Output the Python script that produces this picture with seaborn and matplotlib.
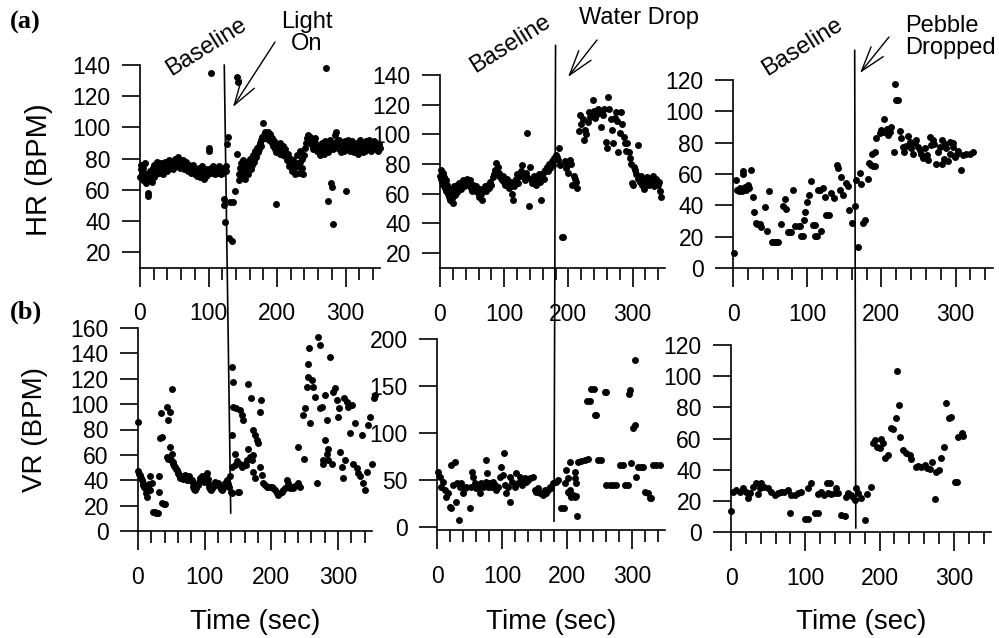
import matplotlib
matplotlib.use("Agg")
import matplotlib.pyplot as plt
import seaborn as sns
import pandas as pd
from matplotlib.patches import ConnectionPatch, FancyArrowPatch
from matplotlib.ticker import MultipleLocator

# ---------------- data: (time in sec, rate in BPM) ----------------
hr_light = [(0,68),(1,73),(2,76),(3,70),(4,66),(5,74),(6,71),(7,77),(8,67),(9,64),(10,70),(11,58),(12,56),
    (13,68),(14,72),(15,66),(16,69),(17,65),(18,71),(19,74),(20,68),(21,76),(22,72),(23,70),(24,75),(25,78),
    (26,73),(27,76),(28,71),(30,74),(31,77),(32,73),(34,70),(35,75),(36,78),(38,74),(39,72),(40,76),(42,79),
    (43,74),(44,77),(46,75),(47,78),(48,73),(50,77),(51,80),(52,75),(54,78),(55,81),(56,76),(58,79),(59,74),
    (60,77),(62,75),(63,79),(64,73),(66,76),(67,78),(68,74),(70,72),(71,76),(72,74),(74,71),(75,75),(76,73),
    (78,76),(79,72),(80,70),(82,73),(83,69),(84,72),(86,74),(87,70),(88,68),(90,72),(91,75),(92,70),(94,67),
    (95,71),(96,69),(98,73),(99,70),(100,87),(101,85),(102,72),(103,135),(104,74),(105,71),(106,75),(108,73),
    (109,70),(110,72),(112,74),(113,71),(114,73),(116,75),(117,72),(118,70),(120,73),(121,71),(122,54),
    (122,50),(123,74),(124,39),(125,72),(126,75),(127,89),(128,94),
    (130,29),(131,52),(134,27),(136,52),(138,59),(141,132),(142,83),(143,129),(144,70),(145,66),(146,74),
    (147,68),(148,77),(149,72),(150,79),(151,70),(152,74),(153,67),(154,76),(155,72),(156,78),(157,74),
    (158,70),(159,77),(160,80),(161,75),(162,73),(163,79),(164,76),(165,82),(166,78),(167,80),(168,85),
    (169,81),(170,83),(171,87),(172,84),(173,88),(174,86),(175,90),(176,92),(177,88),(178,94),(180,103),
    (181,95),(182,97),(183,93),(184,96),(186,94),(187,97),(188,95),(189,92),(190,96),(192,93),(193,90),
    (194,88),(196,91),(197,86),(198,84),(199,51),(200,89),(201,85),(202,87),(204,83),(205,90),(206,86),
    (208,82),(209,88),(210,84),(212,86),(213,81),(214,79),(216,83),(217,78),(218,75),(220,80),(221,76),
    (222,72),(224,79),(225,74),(226,70),(228,77),(229,82),(230,75),(232,71),(233,78),(234,85),(236,80),
    (237,74),(238,70),(240,82),(241,87),(242,90),(244,93),(245,95),(246,91),(248,94),(249,89),(250,92),
    (252,88),(253,86),(254,91),(256,93),(257,89),(258,85),(260,88),(261,84),(262,82),(264,87),(265,90),
    (266,86),(268,83),(269,89),(270,91),(272,138),(272,87),(274,84),(275,53),(276,88),(278,92),(279,64),
    (280,62),(281,86),(282,38),(283,90),(284,95),(286,97),(287,91),(288,88),(290,92),(291,86),(292,89),
    (294,84),(295,90),(296,87),(298,85),(299,91),(300,59),(301,88),(302,86),(304,92),(305,89),(306,85),
    (308,88),(309,91),(310,87),(312,84),(313,89),(314,86),(316,90),(317,88),(318,83),(320,87),(321,92),
    (322,89),(324,86),(325,90),(326,84),(328,88),(329,85),(330,91),(332,89),(333,86),(334,92),(336,88),
    (337,85),(338,90),(340,87),(341,91),(342,88),(344,86),(345,90),(346,88),(348,85),(349,89),(350,87)]

hr_water = [(0,72),(1,76),(2,70),(3,68),(4,74),(5,66),(6,71),(8,64),(9,69),(10,62),(11,66),(12,60),(13,64),
    (14,58),(15,62),(16,56),(17,60),(18,63),(19,57),(20,54),(21,61),(22,65),(23,59),(24,63),(26,66),(27,61),
    (28,64),(30,67),(32,63),(34,66),(36,69),(38,65),(40,68),(42,70),(44,66),(46,69),(48,64),(50,62),(52,66),
    (54,63),(56,65),(58,61),(60,58),(62,63),(64,60),(66,56),(68,63),(70,65),(72,62),(74,66),(76,64),(78,68),
    (80,66),(82,71),(84,73),(86,76),(88,81),(90,78),(92,74),(94,71),(96,69),(98,72),(100,68),(102,66),
    (104,70),(106,67),(108,64),(110,68),(112,60),(114,56),(116,65),(118,70),(120,73),(122,67),(124,72),
    (126,75),(128,79),(130,72),(132,69),(134,74),(135,101),(136,71),(138,52),(140,78),(142,70),(144,67),
    (146,72),(148,69),(150,66),(152,71),(154,73),(156,68),(158,56),(160,74),(162,70),(164,76),(166,78),
    (168,75),(170,80),(172,77),(174,82),(176,79),(178,84),
    (180,86),(182,85),(184,83),(185,91),(187,79),(190,31),(192,31),(194,82),(196,77),(198,79),(200,74),
    (202,83),(204,80),(206,66),(208,72),(210,70),(212,68),(214,64),
    (216,102),(218,113),(220,107),(222,110),(224,96),(226,103),(228,100),(230,108),(232,115),(234,112),
    (236,114),(238,123),(240,116),(242,111),(244,114),(246,117),(248,115),(250,105),(252,116),(254,113),
    (256,117),(258,95),(260,91),(262,125),(264,117),(266,110),(268,103),(270,94),(272,111),(274,115),
    (276,109),(278,88),(280,101),(282,115),(284,107),(286,98),(288,94),(290,89),(292,94),(294,88),(296,84),
    (298,80),(299,67),(300,66),(302,78),(304,76),(306,73),(308,70),(309,93),(311,68),(313,72),(315,66),
    (317,63),(319,70),(321,68),(323,71),(325,66),(327,70),(329,68),(331,72),(333,65),(335,69),(337,70),
    (339,66),(341,68),(343,62),(345,58)]

hr_pebble = [(2,9.4),(4.5,56),(6,50),(8,49),(10,51),(12,49),(13.5,62),(14,60),(16,52),(18,50),(20,53),
    (22,51),(24.7,62.5),(27,45.5),(28,35.5),(31,28.5),(33,28),(36,28),(38,26.4),(42.7,38.7),(46,23.6),
    (49,49),(52,16.4),(54,16.4),(56,16.4),(58,16.4),(61,16.4),(65,28),(67,39.6),(70.5,44),(72,37.4),
    (74,22.8),(76,22.8),(78.6,22.8),(81,50),(83,27),(88.5,27),(90,27),(91,20.2),(94,20.2),(95.7,30.6),
    (97.5,35.5),(99.7,42),(102,46.8),(104.7,55.7),(108,27.5),(110,27.5),(111,20.6),(113,20.6),(114.6,50),
    (117,50),(119,23.8),(121,51),(123.5,45.5),(126,34),(130,34),(132.5,48),(136,44.5),(140.6,65.7),
    (142,63.6),(143.8,50),(146,58),(148,46.6),(152.7,54),(155,52.3),(157,37),(160,28.5),(164,39.6),
    (166,56),(168.5,13.6),(170.7,60.4),(173,53.6),(175,29),(178,30.6),(182,56.8),(183,66.8),(186,65.7),
    (187,73),(189,65.3),(191,74.3),(191,65.3),(193,82.8),(197.7,86),(200,88),(202,87),(204,95),(207,89),
    (209,85),(211,87),(213,90),(217,74.3),(218,117.4),(220,107),(222,107),(224.6,87.7),(227,82.8),
    (229,77.4),(231,74.3),(233,78),(236,84),(238,80.6),(240,76.4),(242.6,73),(245,79.6),(247,81.7),
    (249,77),(251.6,75.3),(254,73),(256,70),(259,76.4),(261,72),(263,69),(265,83.8),(267,78.5),
    (269.5,81.7),(271,79),(274,66.4),(276,74),(278.5,77.4),(281,81.7),(281,66.4),(284,69.4),(286,79),
    (287.5,76.4),(290,68),(292,80.7),(293,73),(296,79.6),(296.5,77.5),(299,71),(301,72),(303,75),
    (307.7,62.6),(310,72),(314.5,73),(319,72.6),(323,74.3)]

vr_light = [(0,86),(0.5,47.5),(2,45),(3,44),(4.5,42),(5.5,40),(7,38),(8,36),(9.5,35),(10.5,33.6),(12,30),
    (13,27),(14.5,32),(15.5,35),(17,37),(18,43),(18.5,32),(20.5,37.6),(23,15),(25,14.6),(26.5,14.4),(28,14),
    (30.5,14),(31.5,43),(32,31),(33,73),(34.5,93),(35.5,74),(36.5,22),(38.5,21),(40.5,21),(43,98),(43,58.6),
    (45.5,87.5),(45.5,57),(48,94),(48,66.5),(49.5,56),(50.5,112),(50.5,61),(52,54),(53,53),(54.5,51),
    (55.5,50.7),(57,49),(58,48),(59.5,46),(60.5,45.4),(62,44),(63.5,42),(65.5,43),(67,41),(68.5,42),
    (70.5,44),(72,42),(73.5,40),(75.5,41.5),(77,43),(78.5,40),(80.5,40),(82,38),(83,35),(84.5,33),
    (85.5,32),(87,34),(88.5,36),(90.5,36),(92,39),(93,41.5),(94.5,42),(95.5,43),(97,41),(98.5,39),
    (100.5,40),(102,43),(103,45.4),(104.5,41),(105.5,37.6),(107,35),(108.5,33),(109.5,32),(111,34),
    (113,35),(114.5,37),(115.5,39),(117,37),(119.5,37.6),(121,36),(123,35),(124.5,33),(126.5,32),(128,34),
    (129.5,36),(131,38),(133,40),(134.5,37),(136.5,35),(138,43),(139,31),(140.5,29.7),
    (140.5,75.6),(141.5,129.5),(141.5,50.7),(143,117.7),(143,98),(145.5,61),(146,52),(147.5,96.7),
    (149,55),(150.5,31),(152,31),(153,95),(153,53),(155.5,91.4),(155.5,50.7),(158,87.5),(158,52),
    (160.5,53),(162,52),(163,56),(165.5,116),(165.5,65),(168,58.6),(169.5,104.5),(170.5,56),(172,60),
    (173,79.6),(173,46.7),(175.5,75.6),(175.5,41.5),(178,71.7),(180.5,69),(183,94),(183,50.7),(184.5,103),
    (185.5,44),(188,37.6),(190.5,36),(193,35),(195.5,35),(198,35),(200.5,35),(203,34),(205.5,32),(208,29.7),
    (210.5,28.4),(213,30),(215.5,31),(218,32),(220.5,33.6),(223,40),(225.5,37.6),(228,34),(230.5,35),
    (233,34),(235.5,35.5),(238,36),(240.5,37.6),(240.5,66.5),(243,35),(248,91.4),(249.5,57),(250.5,96.7),
    (253,113.7),(255.5,121.6),(255.5,132),(256.5,144),(258,85),(260.5,119),(263,113.7),(265.5,106),
    (268,37.6),(269.5,153),(273,146.5),(273,96.7),(275.5,98),(278,56),(278,53),(280.5,71.7),(280.5,107),
    (283,87.5),(283,61),(285.5,65),(285.5,56),(288,137.4),(290.5,53),(293,109.8),(295.5,112.4),(298,103),
    (300.5,90),(301.5,96.7),(303,62.5),(305.5,50.7),(308,41.5),(309.5,104.5),(310.5,56),(313,102),
    (315.5,98),(318,77),(320.5,99),(323,53),(325.5,85),(328,49.4),(330.5,45.4),(333,43),(335.5,75.6),
    (338,37.6),(340.5,32),(343,46.7),(345.5,83.5),(348,90),(350.5,53),(353,104.5),(354.5,107)]

vr_water = [(1.5,59),(4,53.5),(6.7,43),(9,48),(12,39.4),(14,32),(17,36),(19.5,21.6),(22,20),(22,66),
    (24.6,44.7),(27,69.5),(28.7,27),(30,46.5),(34,7.4),(35,43),(37.4,46.5),(40,36),(42.6,41),(45,43),(50,20),
    (53,43),(54,59),(55,53.5),(58,46.5),(60.5,41),(63,43),(65.6,36),(68,46.5),(70.8,43),(76,71),(77,57),
    (76,48),(78.5,43),(81,46.5),(83.6,43),(86,48),(88.7,44.7),(91,39.4),(94,43),(96.4,53.5),(99,64),
    (102.6,79),(101.5,55),(104,44.7),(106.7,36),(109,43),(112,53.5),(113,27),(116,48),(119.5,43),(122,57),
    (124.6,46.5),(127,53.5),(130,44.7),(132,48),(135,51.8),(137.4,48),(140,50),(142.6,51.8),(147.7,53.5),
    (150,39.4),(153,37.6),(155,41),(158,36),(163,34),(165.6,39.4),(168,36),(171,39.4),(173.3,43),(176,41),
    (178.5,46.5),
    (183.6,48),(186,50),(191,20),(195,20),(196.4,46.5),(199,60.6),(201.5,51.8),(201.5,37.6),(203,36),
    (205,39.4),(204,69.5),(206.7,32),(209,34),(211.8,32),(214,46.5),(211.8,51.8),(213,59),(215.4,11.7),
    (213.3,33),(216.7,69.5),(221.6,70.6),(227,71.3),(232,72),(230.8,134.4),(234.9,134.4),(237.4,146.5),
    (241,146.5),(242.6,119),(245,119),(247.7,71.3),(252.8,71.3),(258,144),(260.5,144),(260.5,44.7),
    (265.6,44.7),(270.8,44.7),(276,44.7),(281,66),(286,66),(288.7,44.7),(294,44.7),(295.4,142),
    (297.4,145.7),(299,68.4),(301.5,105),(304,108.5),(304,178),(306.7,52.8),(309,64),(314,64),(316.9,64),
    (319.5,37.6),(324.6,36),(327,30.5),(329.7,30.5),(332,66),(337.4,66),(342.6,66)]

vr_pebble = [(0.5,13.7),(2.7,25.9),(7,27),(11.7,25.9),(16,28),(20.6,25.9),(23,21.6),(25,24.8),(29.6,29),
    (34,31.2),(36.3,24.4),(38.6,28),(40.8,31.2),(45,29),(49.8,28),(54,25.9),(58.8,23.7),(63,24.8),
    (67.7,25.9),(72,25.9),(76.7,27),(79,12),(81,23.7),(85.7,23.7),(90,24.8),(94.7,25.9),(100,8.1),
    (103.6,8.1),(103.6,28),(108,31.2),(113.5,12),(117,12),(117,24.4),(121.6,25.9),(125,23.7),(129.6,31.7),
    (132.8,31.7),(130.5,25.2),(135,24.4),(139.5,25.2),(141.8,28),(144,25.2),(148.5,10.9),(154,10.3),
    (155,22.7),(157.5,24.8),(161,23.7),(164,22.7),(166.4,20.5),(168.7,28),(171,24.8),(174.5,21.6),
    (180,7.7),(183.5,24.4),(189,29),(191,57),(194,59),(197,54.8),(200,53.7),(202,60),(204.6,57),
    (206.8,47.3),(211,49.4),(215,67),(218,65.9),(222.5,73),(224,103),(225.7,81.5),(228,61),(231.5,52.6),
    (236,50.5),(240.5,49.4),(242.7,46.6),(249.4,42),(251.7,42.4),(256,42),(260.6,43),(264,40.9),
    (267.4,40.2),(270.5,45),(274,21),(276,38.7),(279.5,39.8),(283,47.3),(286.7,54.3),(290,83),(293,73),
    (296.5,73.6),(301,32.3),(304.6,32.3),(305.5,61),(311,63.5),(312,61.5)]

# event onsets (sec): where the vertical marker crosses the upper and lower panels
event_top = [123, 180, 164]
event_bottom = [139, 180, 168]
event_top_level = [140, 160, 139]
event_bottom_level = [14, 6, 2.5]

top_yticks = [list(range(20, 141, 20)), list(range(20, 141, 20)), list(range(0, 121, 20))]
top_ylims = [(10, 140), (10, 140), (0, 120)]
bottom_yticks = [list(range(0, 161, 20)), list(range(0, 201, 50)), list(range(0, 121, 20))]
bottom_ylims = [(0, 160), (-3, 200), (0, 120)]
stimuli = ["Light\nOn", "Water Drop", "Pebble\nDropped"]

# ---------------- figure ----------------
sns.set_style("ticks")
plt.rcParams['font.family'] = ['Liberation Sans', 'DejaVu Sans']
for key in ("text.color", "axes.labelcolor", "xtick.color", "ytick.color", "axes.edgecolor"):
    plt.rcParams[key] = "black"

W, H = 999, 638
fig = plt.figure(figsize=(W / 100, H / 100), dpi=100)

def box(l, r, t, b):
    return [l / W, 1 - b / H, (r - l) / W, (b - t) / H]

def fx(x):
    return x / W

def fy(y):
    return 1 - y / H

top_boxes = [box(140, 379.8, 65, 267.6), box(440, 664.7, 75, 267.8), box(733, 992.7, 80, 268)]
bottom_boxes = [box(138, 371.5, 328, 531), box(437, 664.5, 339, 529.8), box(731, 991, 345, 532)]

def style(ax, yticks, ylim):
    sns.despine(ax=ax)
    ax.set_xlim(0, 350)
    ax.set_ylim(*ylim)
    ax.set_yticks(yticks)
    ax.xaxis.set_major_locator(MultipleLocator(100))
    ax.xaxis.set_minor_locator(MultipleLocator(20))
    for s in ("left", "bottom"):
        ax.spines[s].set_linewidth(1.2)
        ax.spines[s].set_color("black")
    ax.tick_params(axis="y", direction="out", length=13, width=1.2, pad=8, labelsize=16.5, colors="black")
    ax.tick_params(axis="x", which="major", direction="out", length=14, width=1.2, pad=11, labelsize=16.5,
                   colors="black")
    ax.tick_params(axis="x", which="minor", direction="out", length=8.5, width=1.2, colors="black")
    ax.set_xlabel("")
    ax.set_ylabel("")
    ax.set_facecolor("none")

top_series = [hr_light, hr_water, hr_pebble]
bottom_series = [vr_light, vr_water, vr_pebble]
for i in range(3):
    axt = fig.add_axes(top_boxes[i])
    dft = pd.DataFrame(top_series[i], columns=["t", "v"])
    sns.scatterplot(data=dft, x="t", y="v", ax=axt, color="black", s=25, linewidth=0, clip_on=False, legend=False)
    style(axt, top_yticks[i], top_ylims[i])

    axb = fig.add_axes(bottom_boxes[i])
    dfb = pd.DataFrame(bottom_series[i], columns=["t", "v"])
    sns.scatterplot(data=dfb, x="t", y="v", ax=axb, color="black", s=25, linewidth=0, clip_on=False, legend=False)
    style(axb, bottom_yticks[i], bottom_ylims[i])

    con = ConnectionPatch(xyA=(event_top[i], event_top_level[i]), coordsA=axt.transData,
                          xyB=(event_bottom[i], event_bottom_level[i]), coordsB=axb.transData,
                          color="black", lw=1.2)
    fig.add_artist(con)

# axis titles
fig.text(fx(39), fy(170), "HR (BPM)", rotation=90, ha="center", va="center", fontsize=21)
fig.text(fx(35), fy(430), "VR (BPM)", rotation=90, ha="center", va="center", fontsize=20)
for cx in (255, 551, 861):
    fig.text(fx(cx), fy(622), "Time (sec)", ha="center", va="center", fontsize=20)

fig.text(fx(25), fy(22), "(a)", ha="center", va="center", fontsize=19, fontweight="bold",
         family=["Liberation Serif", "DejaVu Serif"])
fig.text(fx(26), fy(312), "(b)", ha="center", va="center", fontsize=19, fontweight="bold",
         family=["Liberation Serif", "DejaVu Serif"])

# "Baseline" labels
for (bx, by) in [(206, 47), (510, 44), (802, 47)]:
    fig.text(fx(bx), fy(by), "Baseline", rotation=32, ha="center", va="center",
             rotation_mode="anchor", fontsize=17)

# stimulus labels
fig.text(fx(307), fy(33), stimuli[0], ha="center", va="center", multialignment="center",
         fontsize=17, linespacing=1.05)
fig.text(fx(639), fy(18), stimuli[1], ha="center", va="center", fontsize=17)
fig.text(fx(905), fy(37), stimuli[2], ha="left", va="center", fontsize=17, linespacing=1.05)

# arrows
arrow_kw = dict(arrowstyle="->,head_length=0.9,head_width=0.28", color="black", lw=1.0,
                shrinkA=0, shrinkB=0, mutation_scale=20)
for tip, tail in [((233, 107), (275, 42)), ((568, 77), (597, 40)), ((860, 73), (889, 37))]:
    fig.add_artist(FancyArrowPatch((fx(tail[0]), fy(tail[1])), (fx(tip[0]), fy(tip[1])),
                                   transform=fig.transFigure, **arrow_kw))

fig.savefig("out.png", dpi=100)
